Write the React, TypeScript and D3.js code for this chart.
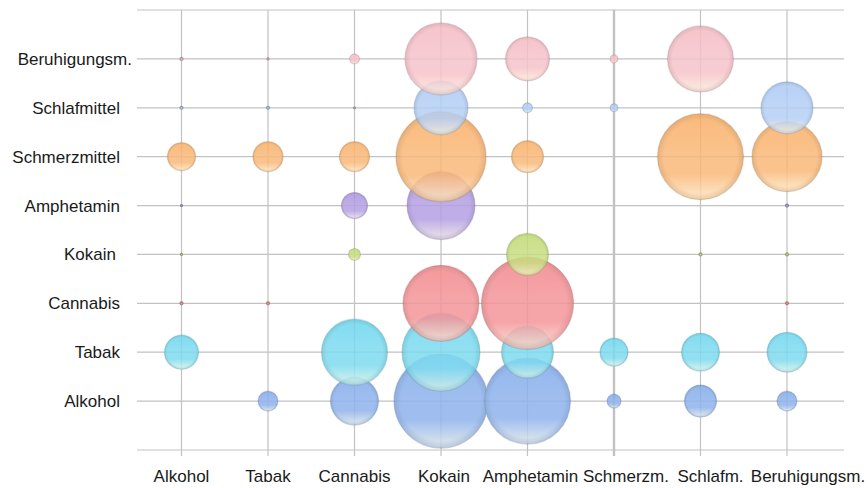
import React from "react";
import * as d3 from "d3";

const categories = ["Alkohol", "Tabak", "Cannabis", "Kokain", "Amphetamin", "Schmerzm.", "Schlafm.", "Beruhigungsm."];
const seriesNames = ["Alkohol", "Tabak", "Cannabis", "Kokain", "Amphetamin", "Schmerzmittel", "Schlafmittel", "Beruhigungsm."];
const seriesColors = ["#80a9ea", "#6cd6ee", "#f2878b", "#c0d870", "#a992de", "#f9ae66", "#aac8f4", "#f5bac3"];

const alkoholValues = [0, 4.5, 26.1, 100, 83.7, 2.2, 11.6, 4.5];
const tabakValues = [13.1, 0, 49.3, 68.9, 30.6, 8.9, 16.3, 18.1];
const cannabisValues = [0.1, 0.1, 0, 65.4, 95.8, 0, 0, 0.1];
const kokainValues = [0.05, 0, 1.6, 0, 20, 0, 0.1, 0.1];
const amphetaminValues = [0.05, 0, 7.7, 52.3, 0, 0, 0, 0.1];
const schmerzmittelValues = [8.9, 10.2, 10.2, 91.7, 11.6, 0, 83.7, 55.5];
const schlafmittelValues = [0.1, 0.1, 0.05, 33, 1.1, 0.7, 0, 30.6];
const beruhigungsmValues = [0.1, 0.05, 1.1, 58.7, 21.9, 0.7, 49.3, 0];

const seriesValues = [
  alkoholValues,
  tabakValues,
  cannabisValues,
  kokainValues,
  amphetaminValues,
  schmerzmittelValues,
  schlafmittelValues,
  beruhigungsmValues,
];

const W = 868;
const H = 488;
const plotLeft = 137;
const plotRight = 844;
const plotTop = 10;
const plotBottom = 450;

const yLabelDx: Record<string, number> = { "Beruhigungsm.": 12, Kokain: -4 };
const xLabelDx: Record<string, number> = { Kokain: 3, Amphetamin: 3, "Schmerzm.": 12, "Schlafm.": 10, "Beruhigungsm.": 21 };

export default function App() {
  const x = d3.scaleLinear().domain([1, 8]).range([181.5, 787]);
  const y = d3.scaleLinear().domain([0, 9]).range([plotBottom, plotTop]);
  const r = d3.scaleSqrt().domain([0, 100]).range([0, 47]);
  const font = "'Liberation Sans', Arial, sans-serif";

  const hLines = d3.range(0, 10);

  return (
    <svg width={W} height={H} style={{ position: "absolute", left: 0, top: 0, background: "#fff" }}>
      <defs>
        {seriesColors.map((c, i) => {
          const light = d3.interpolateRgb(c, "#fffbe6")(0.75);
          const mid = d3.interpolateRgb(c, "#ffffff")(0.12);
          const dark = d3.color(c)!.darker(0.9).formatHex();
          return (
            <React.Fragment key={i}>
              <linearGradient id={`lg${i}`} x1="0" y1="0" x2="0" y2="1">
                <stop offset="0%" stopColor={c} />
                <stop offset="45%" stopColor={mid} />
                <stop offset="70%" stopColor={mid} />
                <stop offset="100%" stopColor={light} />
              </linearGradient>
              <radialGradient id={`rg${i}`} cx="50%" cy="50%" r="50%">
                <stop offset="0%" stopColor={dark} stopOpacity={0} />
                <stop offset="85%" stopColor={dark} stopOpacity={0} />
                <stop offset="100%" stopColor={dark} stopOpacity={0.35} />
              </radialGradient>
            </React.Fragment>
          );
        })}
        <filter id="soft" x="-10%" y="-10%" width="120%" height="120%">
          <feGaussianBlur stdDeviation="0.7" />
        </filter>
      </defs>

      {/* grid */}
      <g>
        {hLines.map((k) => (
          <line key={`h${k}`} x1={plotLeft} x2={plotRight} y1={y(k)} y2={y(k)} stroke="#c2c2c2" strokeWidth={1.2} />
        ))}
        {categories.map((c, i) => (
          <line
            key={`v${c}`}
            x1={x(i + 1)}
            x2={x(i + 1)}
            y1={plotTop}
            y2={plotBottom + 6}
            stroke="#c2c2c2"
            strokeWidth={i === 5 ? 2.4 : 1.2}
          />
        ))}
      </g>

      {/* bubbles: bottom series first */}
      <g filter="url(#soft)">
        {seriesValues.map((vals, si) => (
          <g key={seriesNames[si]} opacity={0.85}>
            {vals.map((v, ci) => {
              if (v <= 0) return null;
              const cx = x(ci + 1);
              const cy = y(si + 1);
              const rad = r(v);
              const dark = d3.color(seriesColors[si])!.darker(1.3).formatHex();
              return (
                <g key={ci}>
                  <circle cx={cx} cy={cy} r={rad} fill={`url(#lg${si})`} />
                  <circle
                    cx={cx}
                    cy={cy}
                    r={rad}
                    fill={`url(#rg${si})`}
                    stroke={dark}
                    strokeOpacity={rad < 3 ? 0.8 : 0.3}
                    strokeWidth={1.2}
                  />
                </g>
              );
            })}
          </g>
        ))}
      </g>

      {/* y labels */}
      <g fontFamily={font} fontSize={17} fill="#1a1a1a">
        {seriesNames.map((s, i) => (
          <text key={s} x={120 + (yLabelDx[s] || 0)} y={y(i + 1) + 6} textAnchor="end">
            {s}
          </text>
        ))}
      </g>

      {/* x labels */}
      <g fontFamily={font} fontSize={17} fill="#1a1a1a">
        {categories.map((c, i) => (
          <text key={c} x={x(i + 1) + (xLabelDx[c] || 0)} y={482} textAnchor="middle">
            {c}
          </text>
        ))}
      </g>
    </svg>
  );
}
